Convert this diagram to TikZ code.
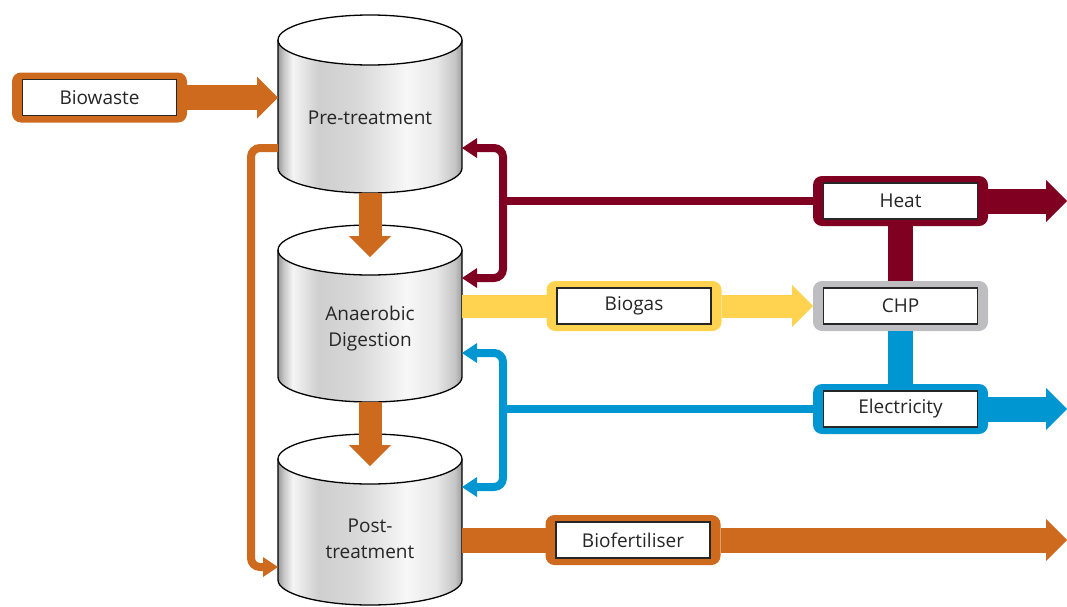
\documentclass[tikz,border=0pt]{standalone}
\usepackage{fontspec}
\setmainfont{Open Sans}
\usetikzlibrary{arrows.meta}

\definecolor{flowOrange}{RGB}{205,106,30}
\definecolor{heatRed}{RGB}{128,0,34}
\definecolor{gasYellow}{RGB}{255,210,80}
\definecolor{elecBlue}{RGB}{0,150,210}
\definecolor{chpGray}{RGB}{190,190,192}

\newcommand{\flowfont}{\fontsize{19}{26}\selectfont}

\pgfdeclarehorizontalshading{tankshade}{100bp}{color(0bp)=(gray!80); color(25bp)=(gray!80); color(26.5bp)=(gray!45); color(29bp)=(gray!8); color(36bp)=(gray!38); color(47bp)=(gray!30); color(60bp)=(gray!6); color(68bp)=(gray!18); color(73bp)=(gray!45); color(75bp)=(gray!75); color(100bp)=(gray!75)}

\tikzset{
  bandtip/.tip={Triangle[length=21pt, width=42pt, line width=0pt]},
  thintip/.tip={Triangle[length=15pt, width=20pt, line width=0pt]},
  flowframe/.style={rectangle, rounded corners=9pt, minimum width=175pt, minimum height=50pt, inner sep=0pt, outer sep=0pt, fill=#1},
  tagbox/.style={rectangle, draw=black!85, line width=1.5pt, fill=white, minimum width=154pt, minimum height=36pt, inner sep=0pt, outer sep=0pt, font=\flowfont, text=black!85},
  tank/.style={rectangle, minimum width=184pt, inner sep=0pt, outer sep=0pt, align=center, font=\flowfont, text=black!85},
  flowband/.style={line width=25pt, draw=#1, -{bandtip}},
  flowbar/.style={line width=25pt, draw=#1},
  thinflow/.style={line width=8pt, draw=#1, rounded corners=9pt},
}

\begin{document}
\begin{tikzpicture}[x=1pt, y=-1pt]
    \useasboundingbox (0,0) rectangle (1067,606);

    % tanks
    \foreach \n/\ty/\by/\tl/\txt in {pre/40/168/118/{Pre-treatment}, ad/250/377/329/{Anaerobic\\Digestion}, post/459/580/539/{Post-\\treatment}} {
      \shade[shading=tankshade] (278,\ty) -- (278,\by) arc[start angle=180, end angle=0, x radius=92, y radius=25] -- (462,\ty) -- cycle;
      \draw[line width=1.3pt] (278,\ty) -- (278,\by) arc[start angle=180, end angle=0, x radius=92, y radius=25] -- (462,\ty);
      \draw[line width=1.3pt, fill=white] (370,\ty) ellipse[x radius=92, y radius=25];
      \node[tank] (\n) at (370,\tl) {\txt};
      \coordinate (\n-bot) at (370,\by+25);
      \coordinate (\n-lid) at (370,\ty+7);
    }

    \coordinate (hT) at (503,148);
    \coordinate (hB) at (503,278);
    \coordinate (eT) at (503,353);
    \coordinate (eB) at (503,487);
    \coordinate (bypT) at (251,148);
    \coordinate (bypB) at (251,567);
    \coordinate (heatOut) at (1067,201);
    \coordinate (elecOut) at (1067,409);
    \coordinate (fertOut) at (1067,540);

    % frames
    \node[flowframe=flowOrange] (bioF) at (99.5,97.5) {};
    \node[flowframe=heatRed] (heatF) at (900.5,201) {};
    \node[flowframe=chpGray] (chpF) at (900.5,306) {};
    \node[flowframe=elecBlue] (elecF) at (900.5,409) {};
    \node[flowframe=gasYellow] (gasF) at (634,306) {};
    \node[flowframe=flowOrange] (fertF) at (633,540) {};

    % flows
    \draw[flowband=flowOrange] (bioF.east) -- (pre.west |- bioF);
    \draw[flowband=flowOrange, line width=23pt] (pre-bot) -- (ad-lid);
    \draw[flowband=flowOrange, line width=23pt] (ad-bot) -- (post-lid);
    \draw[thinflow=flowOrange, -{thintip}] (pre.west |- bypT) -- (bypT) -- (bypB) -- (post.west |- bypB);

    \draw[thinflow=heatRed, {thintip}-{thintip}] (pre.east |- hT) -- (hT) -- (hB) -- (ad.east |- hB);
    \draw[thinflow=heatRed] (hT |- heatF) -- (heatF.west);
    \draw[flowband=heatRed] (heatF.east) -- (heatOut);
    \draw[flowbar=heatRed] (heatF.south) -- (chpF.north);

    \draw[thinflow=elecBlue, {thintip}-{thintip}] (ad.east |- eT) -- (eT) -- (eB) -- (post.east |- eB);
    \draw[thinflow=elecBlue] (eT |- elecF) -- (elecF.west);
    \draw[flowband=elecBlue] (elecF.east) -- (elecOut);
    \draw[flowbar=elecBlue] (chpF.south) -- (elecF.north);

    \draw[flowbar=gasYellow, line width=23pt] (ad.east |- gasF) -- (gasF.west);
    \draw[flowband=gasYellow, line width=23pt] (gasF.east) -- (chpF.west);

    \draw[flowbar=flowOrange] (post.east |- fertF) -- (fertF.west);
    \draw[flowband=flowOrange] (fertF.east) -- (fertOut);

    % labels
    \node[tagbox] (biowaste) at (bioF) {Biowaste};
    \node[tagbox] (heat) at (heatF) {Heat};
    \node[tagbox] (chp) at (chpF) {CHP};
    \node[tagbox] (elec) at (elecF) {Electricity};
    \node[tagbox] (biogas) at (gasF) {Biogas};
    \node[tagbox] (biofert) at (fertF) {Biofertiliser};
\end{tikzpicture}
\end{document}
